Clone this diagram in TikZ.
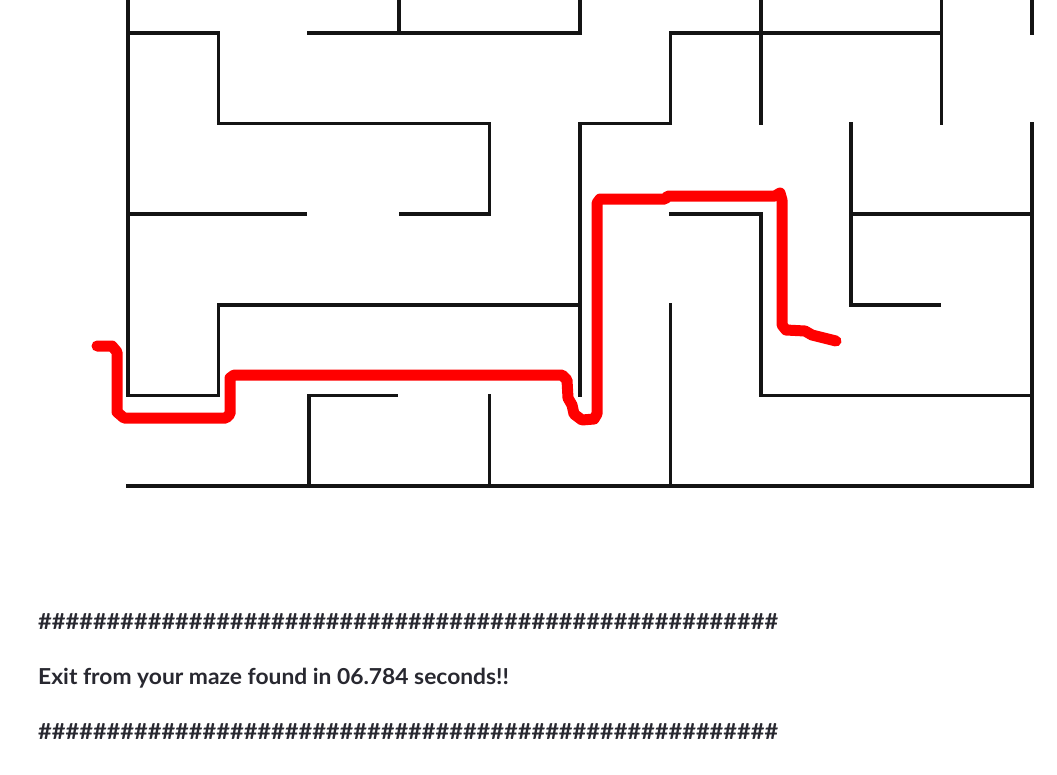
\documentclass[tikz,border=0pt]{standalone}
\usepackage{fontspec}
\setmainfont{Lato}
\usepackage{tikz}
\usetikzlibrary{positioning}
\definecolor{inkgrey}{RGB}{40,40,48}
\definecolor{wallblack}{RGB}{20,20,20}
\tikzset{
    wall/.style={draw=wallblack, line width=3.6pt, line cap=rect},
    route/.style={draw=red, line width=11pt, line cap=round, line join=round},
    hashrow/.style={inner sep=0pt, anchor=west, text=inkgrey, font=\fontsize{22}{26}\selectfont\bfseries},
    message/.style={inner sep=0pt, text=inkgrey, font=\fontsize{22}{26}\selectfont\bfseries},
}
\newcommand{\hashes}{\scalebox{1.074}[1]{\#\#\#\#\#\#\#\#\#\#\#\#\#\#\#\#\#\#\#\#\#\#\#\#\#\#\#\#\#\#\#\#\#\#\#\#\#\#\#\#\#\#\#\#\#\#\#\#\#\#\#\#\#\#}}

\begin{document}
\begin{tikzpicture}[x=1pt, y=-1pt]
    \clip (0,0) rectangle (1057,774);
    \fill[white] (0,0) rectangle (1057,774);

    % maze walls, on a grid of 90.4 x 90.6
    \begin{scope}[shift={(128pt,-33pt)}, x=90.4pt, y=-90.6pt]
        \draw[wall] (0,-1) -- (0,4) -- (1,4) -- (1,3) -- (5,3);
        \draw[wall] (0,0) -- (1,0) -- (1,1) -- (4,1) -- (4,2) -- (3.02,2);
        \draw[wall] (0,2) -- (1.96,2);
        \draw[wall] (3,-1) -- (3,0);
        \draw[wall] (2,0) -- (5,0) -- (5,-1);
        \draw[wall] (5,4) -- (5,1) -- (6,1) -- (6,0) -- (9,0);
        \draw[wall] (7,-1) -- (7,1);
        \draw[wall] (9,-1) -- (9,1);
        \draw[wall] (10,-1) -- (10,0);
        \draw[wall] (8,1) -- (8,3) -- (8.97,3);
        \draw[wall] (8,2) -- (10,2);
        \draw[wall] (10,1) -- (10,5) -- (0,5);
        \draw[wall] (6,2) -- (7,2) -- (7,4) -- (10,4);
        \draw[wall] (6,3) -- (6,5);
        \draw[wall] (2,5) -- (2,4) -- (2.97,4);
        \draw[wall] (4,4) -- (4,5);
    \end{scope}

    % the way out
    \draw[route] (97,346) -- (112,346) -- (117,352) -- (117,412) -- (124,418)
        -- (226,418) -- (230,414) -- (230,378) -- (234,375) -- (562,375)
        -- (567,380) -- (568,398) -- (572,405) -- (574,414) -- (582,420)
        -- (594,419) -- (597,414) -- (597,203) -- (600,199) -- (665,199)
        -- (668,196) -- (775,196) -- (780,193) -- (782,200) -- (782,325)
        -- (786,330) -- (805,331) -- (812,335) -- (836,341);

    % solver output
    \node[hashrow] (hashtop) at (38,622) {\hashes};
    \node[message, below=38pt of hashtop.south west, anchor=north west] (result) {\scalebox{1.037}[1]{Exit from your maze found in 06.784 seconds!!}};
    \node[hashrow, below=35pt of result.south west, anchor=north west] (hashbot) {\hashes};
\end{tikzpicture}
\end{document}
